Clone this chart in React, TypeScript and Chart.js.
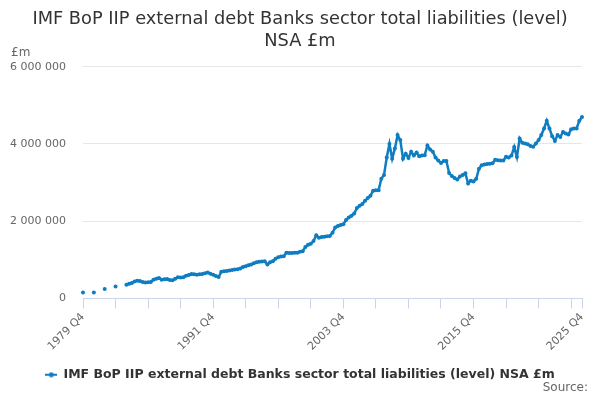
import React, { useEffect, useRef } from 'react';
import { Chart, registerables } from 'chart.js';

Chart.register(...registerables);

const FONT = '"DejaVu Sans", sans-serif';
const LINE_COLOR = '#0f7dc2';

const TITLE_LINES = ['IMF BoP IIP external debt Banks sector total liabilities (level)', 'NSA £m'];
const SERIES_NAME = 'IMF BoP IIP external debt Banks sector total liabilities (level) NSA £m';
const Y_UNIT = '£m';
const SOURCE_TEXT = 'Source:';

// Quarter categories: 1979 Q4 .. 2025 Q4
const FIRST_YEAR = 1979;
const LAST_YEAR = 2025;
const categories: string[] = [];
for (let y = FIRST_YEAR; y <= LAST_YEAR; y++) {
  for (let q = 1; q <= 4; q++) {
    if (y === FIRST_YEAR && q < 4) continue;
    categories.push(`${y} Q${q}`);
  }
}

// Annual (Q4) observations 1979 Q4 - 1982 Q4, £m
const annualLabels = ['1979 Q4', '1980 Q4', '1981 Q4', '1982 Q4'];
const annualValues = [157000, 157000, 243000, 313000];

// Quarterly observations from 1983 Q4 to 2025 Q4, £m
const quarterlyStart = '1983 Q4';
const quarterlyValues = [
  357000, 380000, 400000, 440000, 462000, 450000, 425000, 417000, 420000, 430000, 488000, 510000,
  530000, 488000, 500000, 505000, 480000, 470000, 510000, 548000, 545000, 548000, 592000, 610000,
  635000, 625000, 618000, 630000, 635000, 655000, 670000, 640000, 618000, 580000, 557000, 690000,
  705000, 715000, 722000, 740000, 750000, 760000, 775000, 815000, 835000, 860000, 880000, 910000,
  940000, 950000, 960000, 965000, 880000, 940000, 965000, 1030000, 1070000, 1090000, 1096000, 1183000,
  1175000, 1180000, 1183000, 1183000, 1210000, 1226000, 1330000, 1390000, 1417000, 1487000, 1635000, 1574000,
  1590000, 1600000, 1610000, 1617000, 1704000, 1835000, 1880000, 1904000, 1922000, 2030000, 2100000, 2139000,
  2200000, 2340000, 2400000, 2444000, 2530000, 2600000, 2661000, 2791000, 2800000, 2800000, 3100000, 3200000,
  3650000, 4000000, 3620000, 3880000, 4230000, 4100000, 3620000, 3750000, 3640000, 3800000, 3700000, 3780000,
  3680000, 3700000, 3710000, 3960000, 3860000, 3800000, 3650000, 3570000, 3510000, 3560000, 3560000, 3250000,
  3170000, 3120000, 3080000, 3160000, 3200000, 3240000, 2980000, 3050000, 3030000, 3100000, 3360000, 3450000,
  3470000, 3480000, 3490000, 3500000, 3590000, 3580000, 3575000, 3575000, 3670000, 3650000, 3700000, 3920000,
  3660000, 4140000, 4030000, 4010000, 3990000, 3950000, 3930000, 4010000, 4100000, 4230000, 4400000, 4600000,
  4400000, 4200000, 4080000, 4230000, 4180000, 4310000, 4270000, 4245000, 4380000, 4400000, 4400000, 4600000,
  4700000,
];

// Axis ticks
const labelledCategories = ['1979 Q4', '1991 Q4', '2003 Q4', '2015 Q4', '2025 Q4'];
const tickEveryQuarters = 12;
const yTicks = [0, 2000000, 4000000, 6000000];

function buildSeries(): (number | null)[] {
  const out: (number | null)[] = categories.map(() => null);
  annualLabels.forEach((l, i) => {
    out[categories.indexOf(l)] = annualValues[i];
  });
  const s = categories.indexOf(quarterlyStart);
  quarterlyValues.forEach((v, i) => {
    out[s + i] = v;
  });
  return out;
}

function fmt(v: number): string {
  return String(v).replace(/\B(?=(\d{3})+(?!\d))/g, ' ');
}

const extraText = {
  id: 'extraText',
  afterDraw(chart: any) {
    const ctx = chart.ctx;
    ctx.save();
    ctx.font = `12px ${FONT}`;
    ctx.fillStyle = '#666666';
    ctx.textBaseline = 'middle';
    ctx.textAlign = 'left';
    ctx.fillText(Y_UNIT, 11, 53);
    ctx.textAlign = 'right';
    ctx.fillText(SOURCE_TEXT, 588, 388);
    ctx.restore();
  },
};

export default function App() {
  const ref = useRef<HTMLCanvasElement | null>(null);

  useEffect(() => {
    document.body.style.margin = '0';
    const canvas = ref.current;
    if (!canvas) return;

    const marker = document.createElement('canvas');
    marker.width = 12;
    marker.height = 6;
    const mctx = marker.getContext('2d')!;
    mctx.strokeStyle = LINE_COLOR;
    mctx.lineWidth = 2;
    mctx.beginPath();
    mctx.moveTo(0, 3);
    mctx.lineTo(12, 3);
    mctx.stroke();
    mctx.fillStyle = LINE_COLOR;
    mctx.beginPath();
    mctx.arc(6, 3, 2.5, 0, Math.PI * 2);
    mctx.fill();

    const labelledIdx = labelledCategories.map((l) => categories.indexOf(l));
    const lastIdx = categories.length - 1;

    const chart = new Chart(canvas, {
      type: 'line',
      data: {
        labels: categories,
        datasets: [
          {
            label: SERIES_NAME,
            data: buildSeries(),
            borderColor: LINE_COLOR,
            backgroundColor: LINE_COLOR,
            borderWidth: 2.5,
            pointRadius: 2,
            pointBorderWidth: 0,
            pointBackgroundColor: LINE_COLOR,
            tension: 0,
            spanGaps: false,
            yAxisID: 'y',
          },
        ],
      },
      options: {
        animation: false,
        responsive: false,
        devicePixelRatio: 1,
        layout: { padding: { left: 0, right: 0, top: 0, bottom: 9 } },
        plugins: {
          title: {
            display: true,
            text: TITLE_LINES,
            color: '#333333',
            font: { family: FONT, size: 17.8, weight: 'normal', lineHeight: 1.2 },
            padding: { top: 9, bottom: 15 },
          },
          legend: {
            display: true,
            position: 'bottom',
            labels: {
              usePointStyle: true,
              pointStyle: marker as any,
              pointStyleWidth: 12,
              color: '#333333',
              font: { family: FONT, size: 12.5, weight: 'bold' },
              padding: 10,
            },
          },
          tooltip: { enabled: false },
        },
        scales: {
          x: {
            type: 'category',
            offset: false,
            afterBuildTicks: (scale: any) => {
              scale.ticks = scale.ticks.filter(
                (t: any) => t.value % tickEveryQuarters === 0 || t.value === lastIdx
              );
            },
            afterFit: (scale: any) => {
              scale.height = 60;
            },
            grid: {
              drawOnChartArea: false,
              drawTicks: true,
              tickLength: 10,
              color: '#ccd6eb',
            },
            border: { display: true, color: '#ccd6eb' },
            ticks: {
              autoSkip: false,
              minRotation: 45,
              maxRotation: 45,
              padding: 2,
              color: '#666666',
              font: { family: FONT, size: 11 },
              callback: (value: any) =>
                labelledIdx.includes(Number(value)) ? categories[Number(value)] : '',
            },
          },
          y: {
            min: 0,
            max: 6000000,
            afterBuildTicks: (scale: any) => {
              scale.ticks = yTicks.map((v) => ({ value: v }));
            },
            afterFit: (scale: any) => {
              scale.width = 83;
            },
            grid: { color: '#e6e6e6', drawTicks: false },
            border: { display: false },
            ticks: {
              padding: 17,
              color: '#666666',
              font: { family: FONT, size: 11 },
              callback: (v: any) => fmt(Number(v)),
            },
          },
          rightSpace: {
            type: 'linear',
            position: 'right',
            min: 0,
            max: 1,
            grid: { display: false, drawTicks: false },
            border: { display: false },
            ticks: { display: false },
            afterFit: (scale: any) => {
              scale.width = 18;
            },
          },
        },
      },
      plugins: [extraText],
    } as any);

    return () => chart.destroy();
  }, []);

  return (
    <div style={{ width: 600, height: 400, background: '#ffffff' }}>
      <canvas ref={ref} width={600} height={400} />
    </div>
  );
}
